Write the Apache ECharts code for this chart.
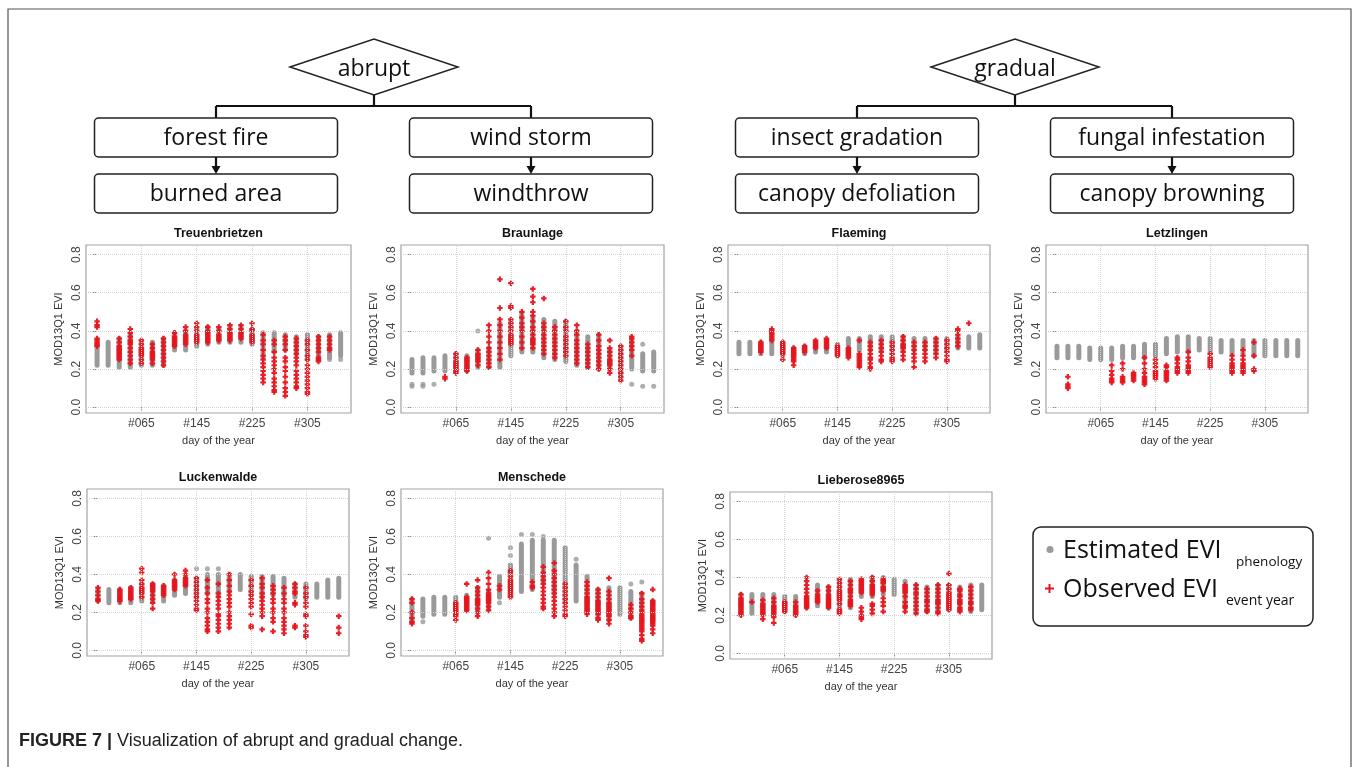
<!DOCTYPE html>
<html>
<head>
<meta charset="utf-8">
<script src="https://cdn.jsdelivr.net/npm/echarts@6/dist/echarts.min.js"></script>
<style>
  html, body { margin: 0; padding: 0; background: #ffffff; }
  #chart { width: 1360px; height: 767px; }
</style>
</head>
<body>
<div id="chart"></div>
<script>
// Start day of each 16-day MOD13Q1 composite
const compositeDays = [1, 17, 33, 49, 65, 81, 97, 113, 129, 145, 161, 177, 193, 209, 225, 241, 257, 273, 289, 305, 321, 337, 353];
const doyTicks = [65, 145, 225, 305];
const doyTickLabels = ['#065', '#145', '#225', '#305'];
const eviTicks = [0, 0.2, 0.4, 0.6, 0.8];

// Per composite: [low, high] of the estimated phenology EVI, isolated estimates as [composite, EVI],
// and the observed event-year EVI values for each composite.

// Treuenbrietzen (forest fire)
const treuenGray = [[0.22,0.33],[0.22,0.34],[0.21,0.36],[0.21,0.38],[0.22,0.35],[0.22,0.34],[0.22,0.36],[0.30,0.39],[0.30,0.40],[0.32,0.41],[0.33,0.42],[0.34,0.41],[0.34,0.42],[0.34,0.42],[0.33,0.41],[0.26,0.39],[0.29,0.39],[0.30,0.38],[0.28,0.37],[0.25,0.38],[0.25,0.37],[0.26,0.38],[0.27,0.39]];
const treuenGrayDots = [[21,0.25],[22,0.25]];
const treuenRed = [
  [0.45,0.43,0.42,0.36,0.35,0.34,0.33,0.32], [],
  [0.36,0.34,0.32,0.31,0.30,0.29,0.28,0.27,0.26,0.25],
  [0.41,0.39,0.37,0.35,0.34,0.33,0.31,0.29,0.27,0.25,0.23],
  [0.35,0.33,0.31,0.30,0.29,0.28,0.27,0.25,0.23],
  [0.33,0.31,0.29,0.28,0.27,0.26,0.25,0.23],
  [0.36,0.34,0.32,0.30,0.28,0.26,0.24,0.22],
  [0.39,0.37,0.36,0.35,0.34,0.33,0.32],
  [0.42,0.40,0.38,0.37,0.36,0.35,0.34,0.33],
  [0.44,0.42,0.40,0.38,0.37,0.36,0.35,0.34],
  [0.42,0.40,0.39,0.38,0.37,0.36,0.35,0.34],
  [0.42,0.40,0.38,0.37,0.36,0.35],
  [0.43,0.41,0.39,0.38,0.37,0.36,0.35],
  [0.43,0.41,0.39,0.38,0.37,0.36],
  [0.44,0.41,0.40,0.38,0.37,0.36,0.35,0.34],
  [0.38,0.35,0.33,0.30,0.27,0.25,0.23,0.21,0.19,0.17,0.15,0.13],
  [0.35,0.33,0.29,0.26,0.24,0.22,0.20,0.18,0.15,0.13,0.11,0.09,0.08],
  [0.37,0.35,0.33,0.30,0.26,0.24,0.21,0.19,0.16,0.13,0.10,0.08,0.06],
  [0.36,0.34,0.32,0.30,0.28,0.26,0.24,0.22,0.19,0.17,0.15,0.13,0.11,0.10],
  [0.35,0.33,0.30,0.27,0.25,0.22,0.20,0.18,0.16,0.14,0.12,0.10,0.08,0.07],
  [0.37,0.35,0.33,0.31,0.29,0.26,0.25,0.24],
  [0.37,0.35,0.33,0.31,0.30], []
];

// Braunlage (wind storm)
const braunGray = [[0.18,0.25],[0.18,0.26],[0.19,0.26],[0.19,0.27],[0.19,0.28],[0.19,0.27],[0.21,0.30],[0.21,0.31],[0.21,0.44],[0.27,0.45],[0.29,0.49],[0.29,0.47],[0.26,0.46],[0.25,0.45],[0.24,0.45],[0.22,0.40],[0.21,0.37],[0.20,0.38],[0.20,0.30],[0.15,0.32],[0.20,0.35],[0.19,0.28],[0.19,0.29]];
const braunGrayDots = [[0,0.12],[0,0.11],[1,0.12],[1,0.11],[2,0.12],[6,0.40],[20,0.12],[21,0.33],[21,0.11],[22,0.11]];
const braunRed = [
  [], [], [], [0.16,0.15],
  [0.28,0.26,0.24,0.23,0.22,0.21,0.20,0.19,0.18],
  [0.26,0.25,0.24,0.23,0.22,0.21,0.20,0.19],
  [0.30,0.28,0.27,0.26,0.25,0.24,0.22],
  [0.43,0.40,0.37,0.34,0.31,0.29,0.27,0.25,0.23,0.21],
  [0.67,0.52,0.46,0.43,0.40,0.37,0.34,0.31,0.28,0.25],
  [0.65,0.53,0.52,0.46,0.44,0.42,0.40,0.38,0.37,0.36,0.35,0.34,0.33],
  [0.50,0.47,0.44,0.42,0.40,0.37,0.34,0.31],
  [0.62,0.58,0.55,0.50,0.48,0.45,0.42,0.40,0.38,0.36,0.35,0.34,0.33,0.31],
  [0.57,0.44,0.42,0.40,0.38,0.36,0.34,0.32,0.30,0.28],
  [0.42,0.40,0.38,0.36,0.34,0.32,0.30,0.28,0.26],
  [0.45,0.42,0.40,0.37,0.35,0.33,0.31,0.29,0.27],
  [0.43,0.40,0.38,0.35,0.33,0.31,0.29,0.27,0.25,0.23],
  [0.33,0.31,0.29,0.27,0.25,0.23,0.21],
  [0.38,0.35,0.32,0.30,0.28,0.26,0.24,0.22,0.20],
  [0.35,0.31,0.29,0.27,0.25,0.24,0.23,0.22,0.20,0.18],
  [0.32,0.30,0.28,0.26,0.24,0.22,0.20,0.18,0.16,0.14],
  [0.37,0.36,0.34,0.32,0.30,0.27],
  [], []
];

// Flaeming (insect gradation)
const flaemGray = [[0.28,0.34],[0.28,0.34],[0.28,0.34],[0.28,0.34],[0.27,0.34],[0.27,0.31],[0.28,0.32],[0.29,0.34],[0.29,0.35],[0.27,0.33],[0.27,0.36],[0.30,0.36],[0.30,0.37],[0.30,0.37],[0.30,0.37],[0.30,0.37],[0.30,0.36],[0.30,0.36],[0.29,0.36],[0.30,0.36],[0.31,0.37],[0.31,0.37],[0.31,0.38]];
const flaemGrayDots = [];
const flaemRed = [
  [], [],
  [0.34,0.33,0.32,0.31,0.30,0.29],
  [0.41,0.40,0.39,0.38,0.37,0.36,0.35],
  [0.34,0.33,0.32,0.31,0.30,0.29,0.28,0.25],
  [0.31,0.30,0.29,0.28,0.27,0.26,0.25,0.24,0.22],
  [0.32,0.31,0.30,0.29],
  [0.35,0.34,0.33,0.32,0.31],
  [0.36,0.35,0.34,0.33,0.32,0.31],
  [0.32,0.31,0.30,0.29,0.28,0.27],
  [0.31,0.30,0.29,0.28,0.27,0.26],
  [0.35,0.28,0.27,0.26,0.25,0.24,0.23,0.22,0.21],
  [0.34,0.32,0.30,0.28,0.26,0.25,0.23,0.21,0.20],
  [0.35,0.33,0.31,0.29,0.27,0.25,0.24],
  [0.34,0.32,0.30,0.28,0.26,0.25,0.24],
  [0.37,0.35,0.33,0.32,0.31,0.29,0.27,0.25],
  [0.34,0.32,0.30,0.28,0.26,0.24,0.21],
  [0.34,0.32,0.30,0.28,0.26,0.24],
  [0.36,0.34,0.32,0.30,0.28,0.26],
  [0.35,0.33,0.31,0.29,0.27,0.25,0.24],
  [0.41,0.40,0.38,0.36,0.34,0.32],
  [0.44], []
];

// Letzlingen (fungal infestation)
const letzGray = [[0.26,0.32],[0.26,0.32],[0.26,0.32],[0.25,0.31],[0.25,0.31],[0.25,0.31],[0.26,0.32],[0.26,0.32],[0.26,0.33],[0.27,0.33],[0.28,0.36],[0.29,0.37],[0.29,0.37],[0.30,0.36],[0.29,0.36],[0.29,0.35],[0.28,0.35],[0.28,0.35],[0.27,0.35],[0.27,0.35],[0.27,0.35],[0.27,0.35],[0.27,0.35]];
const letzGrayDots = [];
const letzRed = [
  [], [0.16,0.12,0.11,0.10], [], [], [],
  [0.22,0.19,0.17,0.15,0.14,0.13],
  [0.23,0.20,0.16,0.15,0.14,0.13],
  [0.18,0.17,0.16,0.15,0.14],
  [0.26,0.23,0.20,0.18,0.16,0.15,0.14,0.13,0.12],
  [0.25,0.23,0.21,0.19,0.18,0.17,0.16,0.15],
  [0.22,0.21,0.19,0.18,0.17,0.16,0.15,0.14],
  [0.26,0.25,0.23,0.21,0.20,0.19,0.18],
  [0.29,0.26,0.24,0.22,0.21,0.20,0.19,0.18],
  [],
  [0.28,0.26,0.25,0.24,0.23,0.22,0.21],
  [],
  [0.27,0.25,0.23,0.22,0.21,0.20,0.19,0.18],
  [0.30,0.27,0.25,0.23,0.22,0.21,0.20,0.19,0.18],
  [0.34,0.27,0.20,0.19],
  [], [], [], []
];

// Luckenwalde (forest fire)
const luckGray = [[0.26,0.32],[0.25,0.32],[0.25,0.32],[0.25,0.33],[0.26,0.35],[0.26,0.35],[0.26,0.34],[0.29,0.37],[0.30,0.39],[0.28,0.38],[0.30,0.40],[0.29,0.40],[0.31,0.40],[0.32,0.40],[0.29,0.39],[0.28,0.39],[0.29,0.39],[0.29,0.38],[0.28,0.35],[0.27,0.35],[0.28,0.35],[0.28,0.37],[0.28,0.38]];
const luckGrayDots = [[9,0.43],[10,0.43],[11,0.43]];
const luckRed = [
  [0.33,0.31,0.29,0.27,0.26], [],
  [0.32,0.31,0.30,0.29,0.28,0.27,0.26],
  [0.33,0.32,0.31,0.30,0.29,0.28,0.27],
  [0.43,0.41,0.37,0.35,0.33,0.32,0.31,0.30,0.28],
  [0.35,0.34,0.33,0.32,0.31,0.29,0.27,0.25,0.22],
  [0.34,0.33,0.32,0.31,0.30,0.29],
  [0.40,0.37,0.36,0.35,0.34,0.33,0.32],
  [0.42,0.40,0.38,0.37,0.36,0.35,0.34],
  [0.38,0.36,0.34,0.32,0.30,0.28,0.26,0.24,0.22,0.21],
  [0.37,0.33,0.30,0.27,0.25,0.22,0.20,0.17,0.15,0.13,0.11,0.10],
  [0.35,0.30,0.28,0.26,0.24,0.22,0.19,0.18,0.16,0.14,0.12,0.10],
  [0.40,0.37,0.34,0.31,0.29,0.27,0.25,0.23,0.20,0.18,0.16,0.14,0.12],
  [],
  [0.37,0.34,0.31,0.29,0.27,0.25,0.23,0.19,0.13,0.12],
  [0.38,0.35,0.33,0.30,0.28,0.26,0.24,0.22,0.20,0.18,0.11],
  [0.34,0.32,0.30,0.27,0.25,0.22,0.20,0.17,0.15,0.10],
  [0.33,0.30,0.27,0.25,0.22,0.20,0.17,0.15,0.13,0.11,0.09],
  [0.35,0.33,0.31,0.30,0.25,0.24,0.13,0.12],
  [0.33,0.30,0.28,0.25,0.23,0.19,0.18,0.13,0.10,0.08,0.07],
  [], [],
  [0.18,0.12,0.09]
];

// Menschede (wind storm)
const menschGray = [[0.15,0.27],[0.18,0.27],[0.19,0.28],[0.19,0.28],[0.19,0.28],[0.21,0.29],[0.20,0.33],[0.22,0.31],[0.28,0.39],[0.31,0.45],[0.31,0.56],[0.32,0.58],[0.36,0.58],[0.30,0.58],[0.25,0.54],[0.26,0.45],[0.20,0.39],[0.18,0.32],[0.16,0.33],[0.19,0.33],[0.17,0.31],[0.22,0.30],[0.16,0.26]];
const menschGrayDots = [[1,0.15],[7,0.59],[8,0.25],[9,0.54],[9,0.50],[10,0.61],[11,0.61],[12,0.60],[15,0.48],[20,0.35],[21,0.36]];
const menschRed = [
  [0.27,0.25,0.20,0.17,0.15,0.14], [], [], [],
  [0.25,0.24,0.23,0.22,0.21,0.20,0.19,0.18,0.16],
  [0.35,0.28,0.27,0.26,0.25,0.24,0.23,0.22,0.21],
  [0.37,0.33,0.31,0.29,0.27,0.26,0.25,0.24,0.22,0.20,0.18],
  [0.41,0.38,0.35,0.32,0.30,0.29,0.28,0.27,0.26,0.25,0.23,0.21],
  [0.34,0.32],
  [0.42,0.41,0.39,0.37,0.36,0.35,0.34,0.33,0.32,0.31,0.30,0.29,0.28],
  [],
  [0.36,0.34,0.33],
  [0.44,0.41,0.39,0.37,0.35,0.33,0.31,0.29,0.27,0.25,0.23,0.22],
  [0.46,0.42,0.40,0.38,0.36,0.34,0.32,0.30,0.28,0.26,0.24,0.22,0.20,0.18],
  [0.35,0.33,0.31,0.29,0.27,0.25,0.23,0.21,0.19,0.18],
  [],
  [0.36,0.34,0.32,0.30,0.28,0.27,0.26,0.25,0.24,0.23,0.22,0.21,0.20,0.19],
  [0.32,0.30,0.28,0.26,0.25,0.24,0.23,0.22,0.21,0.20,0.19,0.17,0.16],
  [0.38,0.31,0.29,0.27,0.25,0.24,0.23,0.22,0.21,0.20,0.19,0.18,0.16,0.14],
  [],
  [0.24,0.22,0.20,0.18,0.17],
  [0.30,0.27,0.25,0.23,0.21,0.20,0.19,0.18,0.17,0.16,0.15,0.14,0.13,0.12,0.11,0.10,0.08,0.06,0.05],
  [0.32,0.26,0.25,0.24,0.23,0.22,0.21,0.20,0.19,0.18,0.17,0.16,0.15,0.14,0.13,0.11,0.09]
];

// Lieberose8965 (insect gradation)
const lieberGray = [[0.21,0.31],[0.21,0.31],[0.21,0.31],[0.22,0.31],[0.22,0.30],[0.21,0.30],[0.24,0.30],[0.25,0.36],[0.24,0.35],[0.22,0.39],[0.24,0.39],[0.30,0.39],[0.30,0.40],[0.31,0.40],[0.31,0.39],[0.24,0.38],[0.21,0.36],[0.22,0.35],[0.22,0.36],[0.23,0.36],[0.23,0.35],[0.22,0.36],[0.23,0.36]];
const lieberGrayDots = [];
const lieberRed = [
  [0.31,0.29,0.28,0.27,0.26,0.25,0.24,0.23,0.22,0.21,0.20],
  [0.27],
  [0.28,0.26,0.25,0.24,0.23,0.22,0.21,0.20,0.18],
  [0.29,0.27,0.25,0.24,0.23,0.22,0.21,0.20,0.19,0.16],
  [0.27,0.26,0.25,0.24,0.23,0.22],
  [0.27,0.25,0.24,0.23,0.22,0.21,0.20],
  [0.40,0.38,0.36,0.34,0.32,0.30,0.29,0.28,0.27,0.26,0.25,0.24],
  [0.33,0.31,0.30,0.29,0.28,0.27],
  [0.35,0.33,0.31,0.30,0.29,0.28,0.27,0.26,0.25,0.24],
  [0.39,0.37,0.35,0.33,0.32,0.31,0.30,0.29,0.28,0.26,0.23,0.22,0.21],
  [0.38,0.36,0.34,0.33,0.32,0.30,0.28,0.27,0.26,0.25],
  [0.39,0.38,0.37,0.36,0.35,0.34,0.33,0.32,0.24,0.22,0.20,0.19,0.18],
  [0.40,0.38,0.36,0.35,0.34,0.33,0.32,0.31,0.26,0.25,0.23,0.21],
  [0.39,0.38,0.37,0.35,0.34,0.33,0.29,0.27,0.25,0.22],
  [],
  [0.36,0.35,0.34,0.33,0.32,0.30,0.27,0.25,0.24,0.22],
  [0.36,0.34,0.32,0.31,0.29,0.27,0.25,0.23,0.21],
  [0.34,0.32,0.30,0.28,0.27,0.25,0.23,0.22],
  [0.36,0.34,0.32,0.30,0.28,0.27,0.26,0.24,0.22,0.21],
  [0.42,0.36,0.34,0.32,0.31,0.30,0.29,0.28,0.27,0.26,0.25,0.24,0.23],
  [0.34,0.33,0.31,0.30,0.28,0.27,0.26,0.24,0.23,0.22],
  [0.35,0.33,0.31,0.29,0.27,0.26,0.24,0.23],
  []
];

// Panel titles and plot boxes (left, top, width, height in px)
const panels = [
  { title: 'Treuenbrietzen', gray: treuenGray, dots: treuenGrayDots, red: treuenRed, box: [86, 245, 265, 168] },
  { title: 'Braunlage',      gray: braunGray,  dots: braunGrayDots,  red: braunRed,  box: [401, 245, 263, 168] },
  { title: 'Flaeming',       gray: flaemGray,  dots: flaemGrayDots,  red: flaemRed,  box: [728, 245, 262, 168] },
  { title: 'Letzlingen',     gray: letzGray,   dots: letzGrayDots,   red: letzRed,   box: [1046, 245, 262, 168] },
  { title: 'Luckenwalde',    gray: luckGray,   dots: luckGrayDots,   red: luckRed,   box: [87, 489, 262, 167] },
  { title: 'Menschede',      gray: menschGray, dots: menschGrayDots, red: menschRed, box: [401, 489, 262, 167] },
  { title: 'Lieberose8965',  gray: lieberGray, dots: lieberGrayDots, red: lieberRed, box: [730, 492, 262, 167] }
];

const GRAY = '#9a9a9a';
const RED = '#e8141c';
const PLUS = 'path://M3,0H7V3H10V7H7V10H3V7H0V3H3Z';
const AXIS_FONT = 'Liberation Sans, Arial, sans-serif';
const BOX_FONT = 'Open Sans, sans-serif';

function renderRange(params, api) {
  const lo = api.coord([api.value(0), api.value(1)]);
  const hi = api.coord([api.value(0), api.value(2)]);
  const w = 5;
  return {
    type: 'rect',
    shape: { x: lo[0] - w / 2, y: hi[1] - w / 2, width: w, height: lo[1] - hi[1] + w, r: w / 2 },
    style: { fill: GRAY }
  };
}

const grids = [], xAxes = [], yAxes = [], series = [], titles = [];

panels.forEach((p, i) => {
  const [left, top, width, height] = p.box;
  grids.push({ left, top, width, height, show: true, borderColor: '#a3a3a3', borderWidth: 1.2, backgroundColor: 'transparent' });
  xAxes.push({
    type: 'value', gridIndex: i, min: -15, max: 368,
    name: 'day of the year', nameLocation: 'middle', nameGap: 22,
    nameTextStyle: { fontFamily: AXIS_FONT, fontSize: 11, color: '#333' },
    axisLine: { show: false },
    axisTick: { show: true, customValues: doyTicks, length: 4, lineStyle: { color: '#888' } },
    axisLabel: {
      customValues: doyTicks, margin: 5, fontFamily: AXIS_FONT, fontSize: 12, color: '#444',
      formatter: v => doyTickLabels[doyTicks.indexOf(v)]
    },
    splitLine: { show: false }
  });
  yAxes.push({
    type: 'value', gridIndex: i, min: -0.03, max: 0.85,
    name: 'MOD13Q1 EVI', nameLocation: 'middle', nameGap: 22,
    nameTextStyle: { fontFamily: AXIS_FONT, fontSize: 11, color: '#333' },
    axisLine: { show: false },
    axisTick: { show: true, customValues: eviTicks, length: 4, lineStyle: { color: '#888' } },
    axisLabel: {
      customValues: eviTicks, rotate: 90, margin: 3, fontFamily: AXIS_FONT, fontSize: 12, color: '#444',
      formatter: v => v.toFixed(1)
    },
    splitLine: { show: false }
  });

  // estimated phenology EVI: dense column per composite
  series.push({
    type: 'custom', xAxisIndex: i, yAxisIndex: i, silent: true, clip: true,
    renderItem: renderRange,
    encode: { x: 0, y: [1, 2] },
    data: p.gray.map((r, k) => [compositeDays[k], r[0], r[1]]),
    markLine: {
      silent: true, symbol: ['none', 'none'], label: { show: false }, animation: false,
      lineStyle: { type: 'dotted', color: '#d4d4d4', width: 1 },
      data: doyTicks.map(d => ({ xAxis: d })).concat(eviTicks.map(v => ({ yAxis: v })))
    },
    z: 2
  });
  series.push({
    type: 'scatter', xAxisIndex: i, yAxisIndex: i, silent: true,
    symbol: 'circle', symbolSize: 5, itemStyle: { color: GRAY },
    data: p.dots.map(([k, v]) => [compositeDays[k], v]),
    z: 3
  });
  // observed event-year EVI
  const redPts = [];
  p.red.forEach((vals, k) => vals.forEach(v => redPts.push([compositeDays[k], v])));
  series.push({
    type: 'scatter', xAxisIndex: i, yAxisIndex: i, silent: true,
    symbol: PLUS, symbolSize: 5.5, itemStyle: { color: RED, opacity: 0.95 },
    data: redPts,
    z: 4
  });

  titles.push({
    type: 'text', x: left + width / 2, y: top - 11,
    style: { text: p.title, font: 'bold 12.5px ' + AXIS_FONT, fill: '#111', textAlign: 'center', textVerticalAlign: 'middle' }
  });
});

// flowchart of change types
const LINE = { stroke: '#111', lineWidth: 2.2 };
function line(x1, y1, x2, y2) { return { type: 'line', shape: { x1, y1, x2, y2 }, style: LINE }; }
function box(x, y, w, h, label) {
  return [
    { type: 'rect', shape: { x, y, width: w, height: h, r: 4 }, style: { fill: '#fff', stroke: '#222', lineWidth: 1.5 } },
    { type: 'text', x: x + w / 2, y: y + h / 2 + 1, style: { text: label, font: '23px ' + BOX_FONT, fill: '#111', textAlign: 'center', textVerticalAlign: 'middle' } }
  ];
}
function arrow(x, y1, y2) {
  return [
    line(x, y1, x, y2 - 6),
    { type: 'polygon', shape: { points: [[x - 4.5, y2 - 8], [x + 4.5, y2 - 8], [x, y2]] }, style: { fill: '#111' } }
  ];
}
function diamond(cx, top, bottom, halfW, label) {
  const cy = (top + bottom) / 2;
  return [
    { type: 'polygon', shape: { points: [[cx - halfW, cy], [cx, top], [cx + halfW, cy], [cx, bottom]] }, style: { fill: '#fff', stroke: '#222', lineWidth: 1.5 } },
    { type: 'text', x: cx, y: cy + 2, style: { text: label, font: '23px ' + BOX_FONT, fill: '#111', textAlign: 'center', textVerticalAlign: 'middle' } }
  ];
}
function branch(cx, leftX, rightX, labels) {
  const bw = 243, bh = 39;
  return [].concat(
    [line(cx, 95, cx, 106), line(leftX, 106, rightX, 106), line(leftX, 106, leftX, 118), line(rightX, 106, rightX, 118)],
    box(leftX - bw / 2, 118, bw, bh, labels[0]),
    box(rightX - bw / 2, 118, bw, bh, labels[1]),
    arrow(leftX, 157, 174),
    arrow(rightX, 157, 174),
    box(leftX - bw / 2, 174, bw, bh, labels[2]),
    box(rightX - bw / 2, 174, bw, bh, labels[3])
  );
}

const flow = [].concat(
  branch(374, 216, 531, ['forest fire', 'wind storm', 'burned area', 'windthrow']),
  diamond(374, 39, 95, 84, 'abrupt'),
  branch(1015, 857, 1172, ['insect gradation', 'fungal infestation', 'canopy defoliation', 'canopy browning']),
  diamond(1015, 39, 95, 84, 'gradual')
);

const legendBox = [
  { type: 'rect', shape: { x: 1033, y: 527, width: 280, height: 99, r: 8 }, style: { fill: '#fff', stroke: '#222', lineWidth: 1.5 } },
  { type: 'circle', shape: { cx: 1050, cy: 549.5, r: 3.5 }, style: { fill: GRAY } },
  { type: 'text', x: 1063, y: 551, style: { text: 'Estimated EVI', font: '25px ' + BOX_FONT, fill: '#111', textVerticalAlign: 'middle' } },
  { type: 'text', x: 1236, y: 562, style: { text: 'phenology', font: '13.5px ' + BOX_FONT, fill: '#111', textVerticalAlign: 'middle' } },
  { type: 'rect', shape: { x: 1045, y: 587.5, width: 9, height: 2 }, style: { fill: RED } },
  { type: 'rect', shape: { x: 1048.5, y: 584, width: 2, height: 9 }, style: { fill: RED } },
  { type: 'text', x: 1063, y: 590, style: { text: 'Observed EVI', font: '25px ' + BOX_FONT, fill: '#111', textVerticalAlign: 'middle' } },
  { type: 'text', x: 1226, y: 601, style: { text: 'event year', font: '14px ' + BOX_FONT, fill: '#111', textVerticalAlign: 'middle' } }
];

const frame = [
  { type: 'rect', shape: { x: 8, y: 9, width: 1343, height: 800 }, style: { fill: 'none', stroke: '#555', lineWidth: 1.2 }, silent: true },
  { type: 'text', x: 19, y: 741, style: {
      text: '{b|FIGURE 7 |} Visualization of abrupt and gradual change.',
      font: '18px ' + AXIS_FONT, fill: '#222', textVerticalAlign: 'middle',
      rich: { b: { fontWeight: 'bold', fontSize: 18, fontFamily: AXIS_FONT, fill: '#222' } }
  } }
];

const chart = echarts.init(document.getElementById('chart'), null, { renderer: 'canvas' });
chart.setOption({
  animation: false,
  backgroundColor: '#ffffff',
  grid: grids,
  xAxis: xAxes,
  yAxis: yAxes,
  series: series,
  graphic: { elements: [].concat(frame, flow, titles, legendBox) }
});
</script>
</body>
</html>
